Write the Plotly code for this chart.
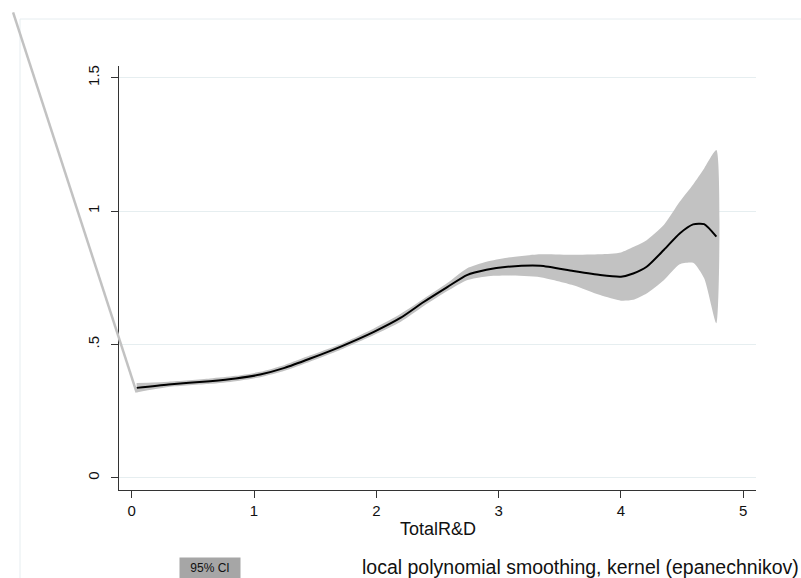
import plotly.graph_objects as go

# ---- data ----
x_grid = [0.04, 0.3, 0.64, 0.85, 1.05, 1.25, 1.46, 1.70, 1.98, 2.2, 2.39, 2.58, 2.74, 2.9,
          3.07, 3.34, 3.61, 3.83, 4.0, 4.10, 4.21, 4.35, 4.48, 4.59, 4.68, 4.78]
smooth = [0.337, 0.350, 0.362, 0.372, 0.387, 0.412, 0.447, 0.490, 0.547, 0.600, 0.660, 0.715,
          0.760, 0.780, 0.791, 0.795, 0.775, 0.760, 0.754, 0.766, 0.791, 0.854, 0.916, 0.950,
          0.951, 0.904]
ci_upper = [0.355, 0.360, 0.372, 0.382, 0.397, 0.423, 0.459, 0.500, 0.560, 0.615, 0.672, 0.730,
            0.785, 0.810, 0.825, 0.838, 0.836, 0.838, 0.845, 0.865, 0.891, 0.948, 1.035, 1.100,
            1.160, 1.229]
ci_lower = [0.320, 0.340, 0.352, 0.362, 0.377, 0.401, 0.436, 0.478, 0.535, 0.585, 0.645, 0.700,
            0.741, 0.755, 0.758, 0.752, 0.722, 0.685, 0.664, 0.667, 0.691, 0.741, 0.801, 0.806,
            0.748, 0.579]
# stray CI-polygon vertex that Stata drew outside the plot region
stray_vertex = (-0.97, 1.745)

x_ticks = [0, 1, 2, 3, 4, 5]
y_ticks = [0, 0.5, 1, 1.5]
y_tick_text = ["0", ".5", "1", "1.5"]

W, H = 801, 578
FONT = "Arial, Liberation Sans, sans-serif"

# main plot region (pixels)
px_l, px_r, px_t, px_b = 119, 756, 66, 490
xr = [-0.104, 5.104]
yr = [-0.046, 1.544]
xdom = [px_l / W, px_r / W]
ydom = [1 - px_b / H, 1 - px_t / H]

# overlay axes spanning whole page with identical data scale
sx = (xr[1] - xr[0]) / (px_r - px_l)
sy = (yr[1] - yr[0]) / (px_b - px_t)
xr2 = [xr[0] - px_l * sx, xr[1] + (W - px_r) * sx]
yr2 = [yr[0] - (H - px_b) * sy, yr[1] + px_t * sy]

BAND = "#c2c2c2"

fig = go.Figure()
fig.add_trace(go.Scatter(
    x=x_grid + x_grid[::-1], y=ci_upper + ci_lower[::-1],
    fill="toself", fillcolor=BAND, line=dict(width=0, color=BAND, shape="spline", smoothing=0.6),
    mode="lines", hoverinfo="skip", showlegend=False, xaxis="x", yaxis="y"))
fig.add_trace(go.Scatter(
    x=x_grid, y=smooth, mode="lines",
    line=dict(color="black", width=2, shape="spline", smoothing=0.6),
    showlegend=False, xaxis="x", yaxis="y"))
fig.add_trace(go.Scatter(
    x=[x_grid[0], stray_vertex[0]], y=[ci_lower[0], stray_vertex[1]],
    mode="lines", line=dict(color=BAND, width=2.5),
    showlegend=False, hoverinfo="skip", xaxis="x2", yaxis="y2"))

fig.update_layout(
    width=W, height=H,
    margin=dict(l=0, r=0, t=0, b=0),
    paper_bgcolor="white", plot_bgcolor="rgba(0,0,0,0)",
    font=dict(family=FONT, color="#111111"),
    xaxis=dict(domain=xdom, range=xr, anchor="y", tickvals=x_ticks,
               ticks="outside", ticklen=7, tickcolor="#333333",
               showline=True, linecolor="#333333", linewidth=1,
               showgrid=False, zeroline=False, tickfont=dict(size=15),
               automargin=False, fixedrange=True),
    yaxis=dict(domain=ydom, range=yr, anchor="x", tickvals=y_ticks, ticktext=y_tick_text,
               tickangle=-90, ticks="outside", ticklen=7, tickcolor="#333333",
               ticklabelstandoff=6,
               showline=True, linecolor="#333333", linewidth=1,
               showgrid=True, gridcolor="#e6eef0", gridwidth=1, zeroline=False,
               tickfont=dict(size=15), automargin=False, fixedrange=True),
    xaxis2=dict(domain=[0, 1], range=xr2, anchor="y2", visible=False, fixedrange=True),
    yaxis2=dict(domain=[0, 1], range=yr2, anchor="x2", visible=False, fixedrange=True),
    shapes=[dict(type="rect", xref="paper", yref="paper",
                 x0=20 / W, x1=1.05, y0=-0.05, y1=1 - 19 / H,
                 line=dict(color="#e6edf0", width=1), layer="below")],
    annotations=[
        dict(text="TotalR&D", xref="paper", yref="paper", x=(px_l + px_r) / 2 / W,
             y=1 - 529 / H, showarrow=False, xanchor="center", yanchor="middle",
             font=dict(size=18)),
        dict(text="95% CI", xref="paper", yref="paper", x=210 / W, y=1 - 568 / H,
             showarrow=False, xanchor="center", yanchor="middle",
             bgcolor="#a6a6a6", borderpad=2, width=56, height=16, font=dict(size=12)),
        dict(text="local polynomial smoothing, kernel (epanechnikov)", xref="paper",
             yref="paper", x=580 / W, y=1 - 567 / H, showarrow=False,
             xanchor="center", yanchor="middle", font=dict(size=19.5)),
    ],
)

fig.write_html("out.html", config={"displayModeBar": False},
               post_script="document.body.style.margin='0';document.body.style.padding='0';")
